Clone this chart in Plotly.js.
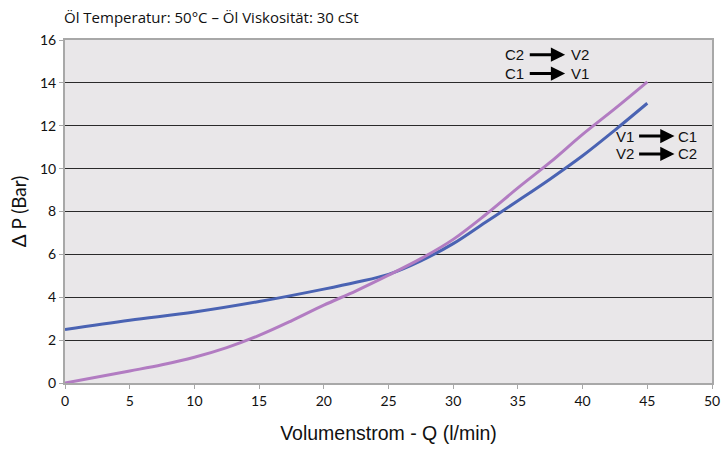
<!DOCTYPE html>
<html>
<head>
<meta charset="utf-8">
<script src="https://cdn.plot.ly/plotly-3.0.1.min.js"></script>
<style>html,body{margin:0;padding:0;background:#fff;}#chart{width:723px;height:450px;}</style>
</head>
<body>
<div id="chart"></div>
<script>
// Data
const flowBlue = [0, 5, 10, 15, 20, 22.5, 25, 27.5, 30, 32.5, 35, 37.5, 40, 42.5, 45];
const dpBlue   = [2.5, 2.93, 3.31, 3.8, 4.38, 4.7, 5.07, 5.7, 6.5, 7.5, 8.5, 9.52, 10.6, 11.8, 13.05];
const flowPurple = [0, 5, 7.5, 10, 12.5, 15, 17.5, 20, 22.5, 25, 27.5, 30, 32.5, 35, 37.5, 40, 42.5, 45];
const dpPurple   = [0, 0.56, 0.85, 1.2, 1.65, 2.22, 2.9, 3.63, 4.3, 5.03, 5.8, 6.7, 7.85, 9.1, 10.3, 11.6, 12.8, 14.05];
const xTicks = [0, 5, 10, 15, 20, 25, 30, 35, 40, 45, 50];
const yTicks = [0, 2, 4, 6, 8, 10, 12, 14, 16];
const chartTitle = "Öl Temperatur: 50°C – Öl Viskosität: 30 cSt";
const xTitle = "Volumenstrom - Q (l/min)";
const yTitle = "Δ P (Bar)";
const flowLabels = [["C2", "V2"], ["C1", "V1"], ["V1", "C1"], ["V2", "C2"]];

const narrow = "Liberation Sans Narrow, Liberation Sans, sans-serif";
const geo = "Lato, DejaVu Sans, sans-serif";

const traces = [
  {x: flowBlue, y: dpBlue, mode: "lines", line: {color: "#4a63b3", width: 3, shape: "spline", smoothing: 1}, hoverinfo: "skip"},
  {x: flowPurple, y: dpPurple, mode: "lines", line: {color: "#b27cc2", width: 3, shape: "spline", smoothing: 1}, hoverinfo: "skip"}
];

// label positions (paper coordinates) for the flow direction notes
const rows = [
  {lx: 0.6955, rx: 0.796, y: 0.957, ax0: 0.716, ax1: 0.773},
  {lx: 0.6955, rx: 0.796, y: 0.902, ax0: 0.716, ax1: 0.773},
  {lx: 0.8655, rx: 0.962, y: 0.720, ax0: 0.885, ax1: 0.942},
  {lx: 0.8655, rx: 0.962, y: 0.668, ax0: 0.885, ax1: 0.942}
];
const annotations = [];
flowLabels.forEach((pair, i) => {
  const r = rows[i];
  annotations.push({xref: "paper", yref: "paper", x: r.lx, y: r.y, text: pair[0], showarrow: false,
    xanchor: "center", yanchor: "middle", font: {family: narrow, size: 15, color: "#111"}});
  annotations.push({xref: "paper", yref: "paper", x: r.rx, y: r.y, text: pair[1], showarrow: false,
    xanchor: "center", yanchor: "middle", font: {family: narrow, size: 15, color: "#111"}});
  annotations.push({xref: "paper", yref: "paper", axref: "paper", ayref: "paper",
    x: r.ax1, y: r.y, ax: r.ax0, ay: r.y, text: "", showarrow: true,
    arrowhead: 2, arrowsize: 0.95, arrowwidth: 3, arrowcolor: "#000"});
});
annotations.push({xref: "paper", yref: "paper", x: -0.005, y: 1.0, yshift: 11, text: chartTitle, showarrow: false,
  xanchor: "left", yanchor: "bottom", font: {family: "Open Sans, sans-serif", size: 15, color: "#111"}});

const layout = {
  width: 723, height: 450,
  margin: {l: 65, r: 11, t: 40, b: 67},
  paper_bgcolor: "#ffffff",
  plot_bgcolor: "#e9e7e9",
  showlegend: false,
  xaxis: {
    range: [0, 50], tickvals: xTicks, ticktext: xTicks.map(String),
    showgrid: false, zeroline: false,
    showline: true, linecolor: "#a8a8a8", linewidth: 2, mirror: true,
    ticks: "outside", ticklen: 4, tickcolor: "#a8a8a8", tickwidth: 1,
    tickfont: {family: geo, size: 14, color: "#111"},
    title: {text: xTitle, font: {family: narrow, size: 19.5, color: "#111"}, standoff: 19}
  },
  yaxis: {
    range: [0, 16], tickvals: yTicks, ticktext: yTicks.map(String),
    showgrid: true, gridcolor: "#2a2a2a", gridwidth: 1, zeroline: false,
    showline: true, linecolor: "#a8a8a8", linewidth: 2, mirror: true,
    ticks: "outside", ticklen: 4, tickcolor: "#a8a8a8", tickwidth: 1,
    tickfont: {family: geo, size: 14, color: "#111"},
    title: {text: yTitle, font: {family: geo, size: 19, color: "#111"}, standoff: 8}
  },
  annotations: annotations
};

Plotly.newPlot("chart", traces, layout, {displayModeBar: false, staticPlot: true});
</script>
</body>
</html>
